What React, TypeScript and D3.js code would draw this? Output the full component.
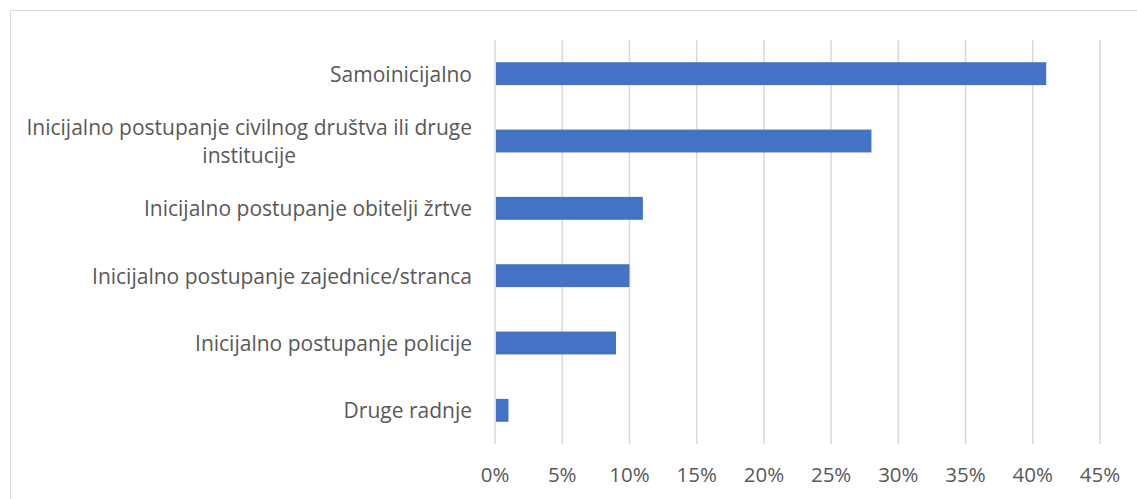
import React, { useEffect, useRef } from 'react';
import * as d3 from 'd3';

const categories = [
  'Samoinicijalno',
  'Inicijalno postupanje civilnog društva ili druge institucije',
  'Inicijalno postupanje obitelji žrtve',
  'Inicijalno postupanje zajednice/stranca',
  'Inicijalno postupanje policije',
  'Druge radnje',
];
const values = [0.41, 0.28, 0.11, 0.1, 0.09, 0.01];
const tickValues = [0, 0.05, 0.1, 0.15, 0.2, 0.25, 0.3, 0.35, 0.4, 0.45];

const width = 1137;
const height = 499;
const plot = { left: 495, right: 1100, top: 40, bottom: 444 };
const font = '"Open Sans", "Liberation Sans", sans-serif';

export default function App() {
  const ref = useRef<SVGSVGElement>(null);

  useEffect(() => {
    const el = ref.current;
    if (!el) return;
    const svg = d3.select(el);
    svg.selectAll('*').remove();

    const x = d3.scaleLinear().domain([0, 0.45]).range([plot.left, plot.right]);
    const y = d3
      .scaleBand<string>()
      .domain(categories)
      .range([plot.top, plot.bottom])
      .paddingInner(0.66)
      .paddingOuter(0.33);

    // chart border
    svg
      .append('rect')
      .attr('x', 10.5)
      .attr('y', 10.5)
      .attr('width', width + 10)
      .attr('height', height + 10)
      .attr('fill', 'none')
      .attr('stroke', '#d9d9d9')
      .attr('stroke-width', 1);

    // gridlines
    svg
      .append('g')
      .selectAll('line')
      .data(tickValues)
      .enter()
      .append('line')
      .attr('x1', (d) => x(d))
      .attr('x2', (d) => x(d))
      .attr('y1', plot.top)
      .attr('y2', plot.bottom)
      .attr('stroke', '#d9d9d9')
      .attr('stroke-width', 1.5);

    // bars
    svg
      .append('g')
      .selectAll('rect')
      .data(categories)
      .enter()
      .append('rect')
      .attr('x', x(0) + 1)
      .attr('y', (d) => y(d)!)
      .attr('width', (d, i) => x(values[i]) - x(0) - 1)
      .attr('height', y.bandwidth())
      .attr('fill', '#4472c4');

    // x tick labels
    svg
      .append('g')
      .selectAll('text')
      .data(tickValues)
      .enter()
      .append('text')
      .attr('x', (d) => x(d))
      .attr('y', 482)
      .attr('text-anchor', 'middle')
      .attr('font-family', font)
      .attr('font-size', 20.5)
      .attr('fill', '#595959')
      .text((d) => d3.format('.0%')(d));

    // category labels, wrapped like Excel does
    const labelRight = 472;
    const maxWidth = 470;
    const lineHeight = 28;
    const g = svg.append('g');
    categories.forEach((cat) => {
      const cy = y(cat)! + y.bandwidth() / 2;
      const t = g
        .append('text')
        .attr('font-family', font)
        .attr('font-size', 21)
        .attr('fill', '#595959')
        .attr('dominant-baseline', 'central');
      const words = cat.split(' ');
      const lines: string[] = [];
      let cur = '';
      words.forEach((w) => {
        const test = cur ? cur + ' ' + w : w;
        t.text(test);
        if ((t.node() as SVGTextElement).getComputedTextLength() > maxWidth && cur) {
          lines.push(cur);
          cur = w;
        } else {
          cur = test;
        }
      });
      lines.push(cur);
      t.text(null);
      if (lines.length === 1) {
        t.attr('text-anchor', 'end').attr('x', labelRight).attr('y', cy).text(lines[0]);
        return;
      }
      let maxW = 0;
      lines.forEach((l) => {
        t.text(l);
        maxW = Math.max(maxW, (t.node() as SVGTextElement).getComputedTextLength());
      });
      t.text(null).attr('text-anchor', 'middle');
      const cx = labelRight - maxW / 2;
      lines.forEach((l, i) => {
        t.append('tspan')
          .attr('x', cx)
          .attr('y', cy + (i - (lines.length - 1) / 2) * lineHeight)
          .text(l);
      });
    });
  }, []);

  return (
    <div style={{ position: 'absolute', left: 0, top: 0 }}>
      <svg ref={ref} width={width} height={height} style={{ display: 'block', background: '#fff' }} />
    </div>
  );
}
